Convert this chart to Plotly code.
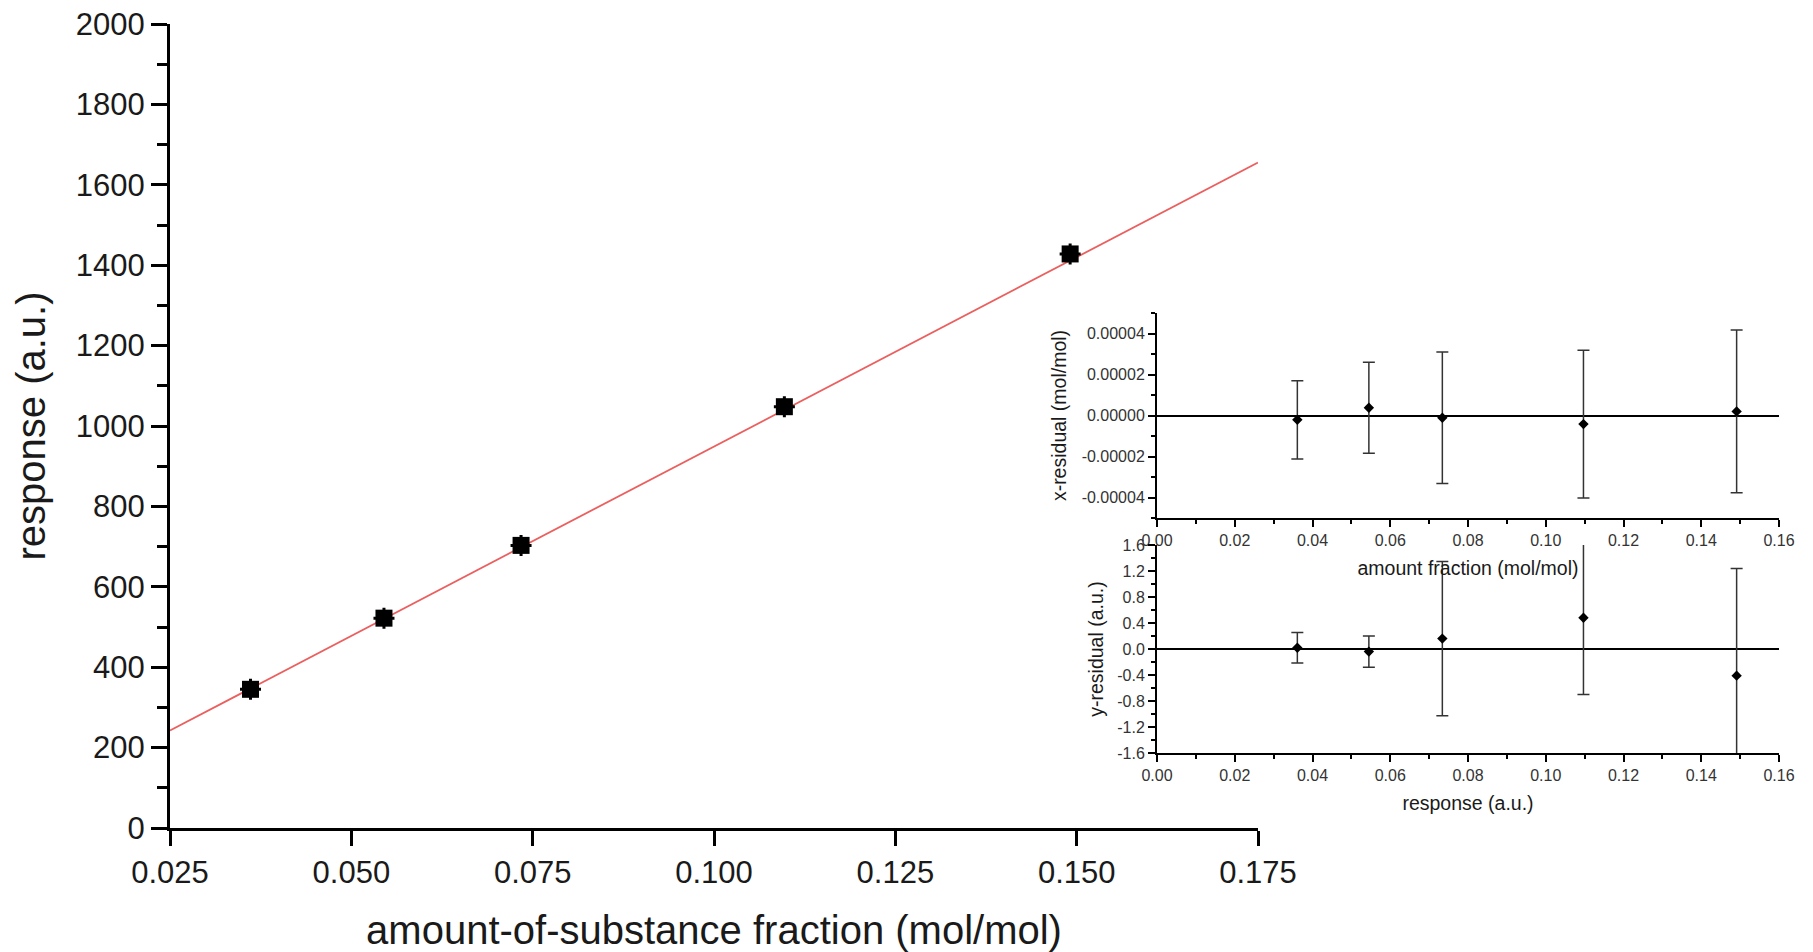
import plotly.graph_objects as go

# ---------------- data ----------------
x_frac = [0.0361, 0.0545, 0.0734, 0.1097, 0.1491]          # mol/mol
response = [345, 522, 703, 1048, 1428]                      # a.u.
fit_slope = 9420.0
fit_intercept = 7.0
fit_x = [0.025, 0.175]

x_resid = [-0.0000021, 0.0000038, -0.0000011, -0.0000042, 0.0000020]
x_resid_err = [0.0000191, 0.0000222, 0.0000321, 0.0000360, 0.0000397]
y_resid = [0.02, -0.04, 0.16, 0.48, -0.41]
y_resid_err = [0.235, 0.24, 1.185, 1.18, 1.65]

main_xticks = [0.025, 0.050, 0.075, 0.100, 0.125, 0.150, 0.175]
main_yticks = [0, 200, 400, 600, 800, 1000, 1200, 1400, 1600, 1800, 2000]
inset_xticks = [0.00, 0.02, 0.04, 0.06, 0.08, 0.10, 0.12, 0.14, 0.16]
xres_ticks = [-0.00004, -0.00002, 0.0, 0.00002, 0.00004]
xres_labels = ["-0.00004", "-0.00002", "0.00000", "0.00002", "0.00004"]
yres_ticks = [-1.6, -1.2, -0.8, -0.4, 0.0, 0.4, 0.8, 1.2, 1.6]
yres_labels = ["-1.6", "-1.2", "-0.8", "-0.4", "0.0", "0.4", "0.8", "1.2", "1.6"]

fit_y = [fit_intercept + fit_slope * v for v in fit_x]

FONT = "Liberation Sans, Arial, sans-serif"
W, H = 1813, 952

fig = go.Figure()

# main plot
fig.add_trace(go.Scatter(x=fit_x, y=fit_y, mode="lines",
                         line=dict(color="rgb(235,95,95)", width=1.8),
                         xaxis="x", yaxis="y", showlegend=False))
fig.add_trace(go.Scatter(x=x_frac, y=response, mode="markers",
                         marker=dict(symbol="cross-thin-open", size=15, color="black",
                                     line=dict(color="black", width=3)),
                         xaxis="x", yaxis="y", showlegend=False))
fig.add_trace(go.Scatter(x=x_frac, y=response, mode="markers",
                         marker=dict(symbol="square", size=17, color="black"),
                         xaxis="x", yaxis="y", showlegend=False))

# x-residual inset
fig.add_trace(go.Scatter(x=x_frac, y=x_resid, mode="markers",
                         marker=dict(symbol="diamond", size=8, color="black"),
                         error_y=dict(type="data", array=x_resid_err, visible=True,
                                      color="#333333", thickness=1.5, width=6),
                         xaxis="x2", yaxis="y2", showlegend=False))
# y-residual inset
fig.add_trace(go.Scatter(x=x_frac, y=y_resid, mode="markers",
                         marker=dict(symbol="diamond", size=8, color="black"),
                         error_y=dict(type="data", array=y_resid_err, visible=True,
                                      color="#333333", thickness=1.5, width=6),
                         xaxis="x3", yaxis="y3", showlegend=False))

def px_x(a, b):
    return [a / W, b / W]

def px_y(top, bottom):
    return [1 - bottom / H, 1 - top / H]

main_ax = dict(showgrid=False, zeroline=False, showline=True, linecolor="black",
               linewidth=3, ticks="outside", tickcolor="black", tickwidth=3,
               automargin=False,
               tickfont=dict(family=FONT, size=31, color="#1a1a1a"))
inset_ax = dict(showgrid=False, showline=True, linecolor="black",
                linewidth=2, ticks="outside", tickcolor="black", tickwidth=1.5,
                ticklen=7, automargin=False,
                tickfont=dict(family=FONT, size=16, color="#333333"))

fig.update_layout(
    width=W, height=H,
    margin=dict(l=0, r=0, t=0, b=0, autoexpand=False),
    paper_bgcolor="white", plot_bgcolor="rgba(0,0,0,0)",
    showlegend=False,
    xaxis=dict(main_ax, domain=px_x(170, 1258), range=[0.025, 0.175],
               tickmode="array", tickvals=main_xticks, tickformat=".3f",
               ticklen=15, anchor="y",
               title=dict(text="amount-of-substance fraction (mol/mol)",
                          font=dict(family=FONT, size=40, color="#1a1a1a"), standoff=28)),
    yaxis=dict(main_ax, domain=px_y(24, 828), range=[0, 2000],
               tickmode="array", tickvals=main_yticks, ticklen=16, anchor="x",
               minor=dict(dtick=100, tick0=0, ticklen=10, tickwidth=3,
                          tickcolor="black", ticks="outside", showgrid=False),
               title=dict(text="response (a.u.)",
                          font=dict(family=FONT, size=40, color="#1a1a1a"), standoff=18)),
    xaxis2=dict(inset_ax, domain=px_x(1157, 1779), range=[0, 0.16], zeroline=False,
                tickmode="array", tickvals=inset_xticks, tickformat=".2f", anchor="y2",
                minor=dict(dtick=0.01, tick0=0, ticklen=4, tickwidth=1.5,
                           tickcolor="black", ticks="outside", showgrid=False),
                title=dict(text="amount fraction (mol/mol)",
                           font=dict(family=FONT, size=19.5, color="#1a1a1a"), standoff=13)),
    yaxis2=dict(inset_ax, domain=px_y(313, 518), range=[-0.00005, 0.00005],
                zeroline=True, zerolinecolor="black", zerolinewidth=2,
                tickmode="array", tickvals=xres_ticks, ticktext=xres_labels, anchor="x2",
                minor=dict(dtick=0.00001, tick0=0, ticklen=4, tickwidth=1.5,
                           tickcolor="black", ticks="outside", showgrid=False),
                title=dict(text="x-residual (mol/mol)",
                           font=dict(family=FONT, size=19.5, color="#1a1a1a"), standoff=10)),
    xaxis3=dict(inset_ax, domain=px_x(1157, 1779), range=[0, 0.16], zeroline=False,
                tickmode="array", tickvals=inset_xticks, tickformat=".2f", anchor="y3",
                minor=dict(dtick=0.01, tick0=0, ticklen=4, tickwidth=1.5,
                           tickcolor="black", ticks="outside", showgrid=False),
                title=dict(text="response (a.u.)",
                           font=dict(family=FONT, size=19.5, color="#1a1a1a"), standoff=13)),
    yaxis3=dict(inset_ax, domain=px_y(545, 753), range=[-1.6, 1.6],
                zeroline=True, zerolinecolor="black", zerolinewidth=2,
                tickmode="array", tickvals=yres_ticks, ticktext=yres_labels, anchor="x3",
                minor=dict(dtick=0.2, tick0=0, ticklen=4, tickwidth=1.5,
                           tickcolor="black", ticks="outside", showgrid=False),
                title=dict(text="y-residual (a.u.)",
                           font=dict(family=FONT, size=19.5, color="#1a1a1a"), standoff=8)),
)

fig.write_html("out.html",
               config={"displayModeBar": False},
               post_script="document.body.style.margin='0px';"
                           "document.body.style.overflow='hidden';")
